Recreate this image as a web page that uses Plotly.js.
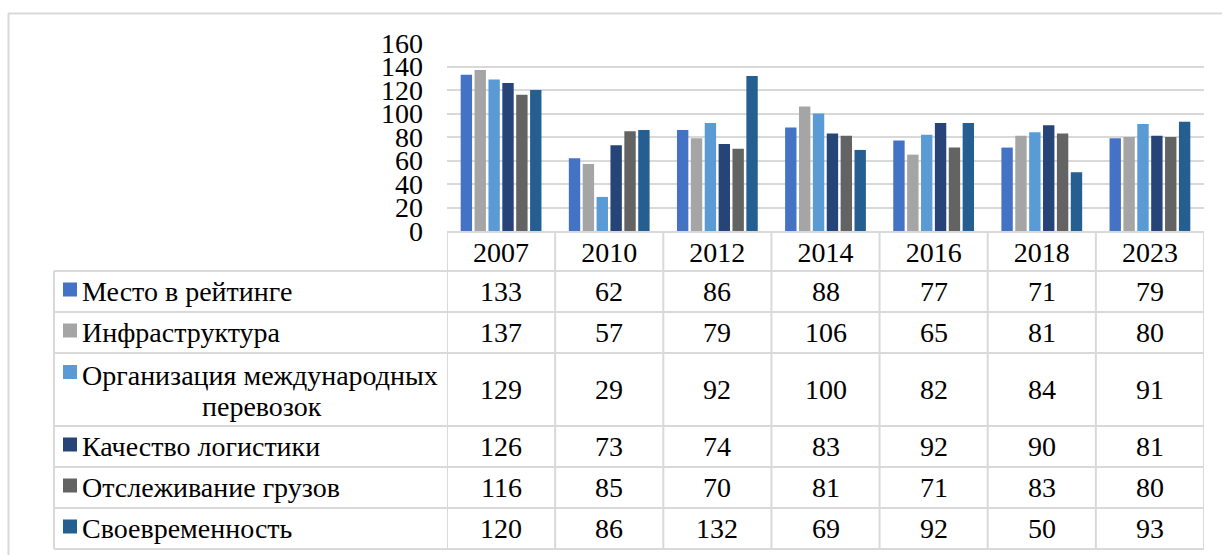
<!DOCTYPE html>
<html>
<head>
<meta charset="utf-8">
<script src="https://cdn.plot.ly/plotly-3.0.1.min.js"></script>
<style>html,body{margin:0;padding:0;background:#fff;}#chart{width:1222px;height:555px;}</style>
</head>
<body>
<div id="chart"></div>
<script>
// ---- data ----
const years = ["2007", "2010", "2012", "2014", "2016", "2018", "2023"];
const seriesNames = [
  "Место в рейтинге",
  "Инфраструктура",
  "Организация международных<br>перевозок",
  "Качество логистики",
  "Отслеживание грузов",
  "Своевременность"
];
const mesto = [133, 62, 86, 88, 77, 71, 79];
const infra = [137, 57, 79, 106, 65, 81, 80];
const organiz = [129, 29, 92, 100, 82, 84, 91];
const kachestvo = [126, 73, 74, 83, 92, 90, 81];
const otslezh = [116, 85, 70, 81, 71, 83, 80];
const svoevrem = [120, 86, 132, 69, 92, 50, 93];
const yTicks = [0, 20, 40, 60, 80, 100, 120, 140, 160];

// ---- styling ----
const values = [mesto, infra, organiz, kachestvo, otslezh, svoevrem];
const colors = ["#4472C4", "#A5A5A5", "#5B9BD5", "#264478", "#636363", "#255E91"];
const FONT = "Liberation Serif";
const FS = 28;
const GRID = "#D9D9D9";

// pixel geometry of plot area
const L = 447, R = 1204, T = 43, B = 231, W = 1222, H = 555;
const px2x = p => (p - L) / (R - L);
const py2y = p => (B - p) / (B - T);

const rowLines = [271, 312, 353, 426, 467, 508, 549];
const rowCenters = [];
for (let i = 0; i < rowLines.length - 1; i++) rowCenters.push((rowLines[i] + rowLines[i + 1]) / 2);

const traces = values.map((v, i) => ({
  type: "bar",
  x: years,
  y: v,
  name: seriesNames[i],
  marker: {color: colors[i]},
  hoverinfo: "skip"
}));

const shapes = [];
const annotations = [];
// outer chart border (left and top)
shapes.push({type: "line", xref: "paper", yref: "paper", x0: px2x(8.5), x1: px2x(8.5), y0: py2y(13), y1: py2y(570), line: {color: GRID, width: 2}});
shapes.push({type: "line", xref: "paper", yref: "paper", x0: px2x(8), x1: px2x(1240), y0: py2y(13.5), y1: py2y(13.5), line: {color: GRID, width: 2}});
// table horizontal lines
rowLines.forEach(p => shapes.push({type: "line", xref: "paper", yref: "paper", x0: px2x(54), x1: 1, y0: py2y(p), y1: py2y(p), line: {color: GRID, width: 2}}));
// table left border
shapes.push({type: "line", xref: "paper", yref: "paper", x0: px2x(54), x1: px2x(54), y0: py2y(271), y1: py2y(549), line: {color: GRID, width: 2}});
// category column borders
for (let k = 0; k <= years.length; k++) {
  shapes.push({type: "line", xref: "x", yref: "paper", x0: k - 0.5, x1: k - 0.5, y0: 0, y1: py2y(549), line: {color: GRID, width: 2}});
}
// legend keys and series names
seriesNames.forEach((name, i) => {
  const multi = name.indexOf("<br>") >= 0;
  const cy = multi ? 374 : rowCenters[i];
  shapes.push({type: "rect", xref: "paper", yref: "paper", x0: px2x(63), x1: px2x(77), y0: py2y(cy + 5), y1: py2y(cy - 9), fillcolor: colors[i], line: {width: 0}});
  if (multi) {
    const parts = name.split("<br>");
    annotations.push({xref: "paper", yref: "paper", x: px2x(80), y: py2y(375), xanchor: "left", yanchor: "middle", text: parts[0], showarrow: false, font: {family: FONT, size: FS, color: "#000"}});
    annotations.push({xref: "paper", yref: "paper", x: px2x(262), y: py2y(406), xanchor: "center", yanchor: "middle", text: parts[1], showarrow: false, font: {family: FONT, size: FS, color: "#000"}});
  } else {
    annotations.push({xref: "paper", yref: "paper", x: px2x(80), y: py2y(rowCenters[i]), xanchor: "left", yanchor: "middle", text: name, showarrow: false, font: {family: FONT, size: FS, color: "#000"}});
  }
  // values (category index positions on the x axis)
  values[i].forEach((v, j) => {
    annotations.push({xref: "x", yref: "paper", x: j, y: py2y(rowCenters[i]), xanchor: "center", yanchor: "middle", text: String(v), showarrow: false, font: {family: FONT, size: FS, color: "#000"}});
  });
});

const layout = {
  width: W, height: H,
  margin: {l: L, r: W - R, t: T, b: H - B, pad: 0},
  paper_bgcolor: "#fff", plot_bgcolor: "#fff",
  showlegend: false,
  barmode: "group",
  bargap: 0.23,
  bargroupgap: 0.18,
  font: {family: FONT, size: FS, color: "#000"},
  xaxis: {
    type: "category", range: [-0.5, years.length - 0.5],
    showgrid: false, zeroline: false, showline: true, linecolor: GRID, linewidth: 2,
    ticks: "", ticklen: 0, ticklabelstandoff: -5,
    tickfont: {family: FONT, size: FS, color: "#000"}, fixedrange: true
  },
  yaxis: {
    range: [0, 160], tickvals: yTicks, ticktext: yTicks.map(String),
    showgrid: true, gridcolor: GRID, gridwidth: 2, zeroline: false, showline: false,
    ticks: "", ticklabelstandoff: 23,
    tickfont: {family: FONT, size: FS, color: "#000"}, fixedrange: true
  },
  shapes: shapes,
  annotations: annotations
};

Plotly.newPlot("chart", traces, layout, {staticPlot: true, displayModeBar: false});
</script>
</body>
</html>
